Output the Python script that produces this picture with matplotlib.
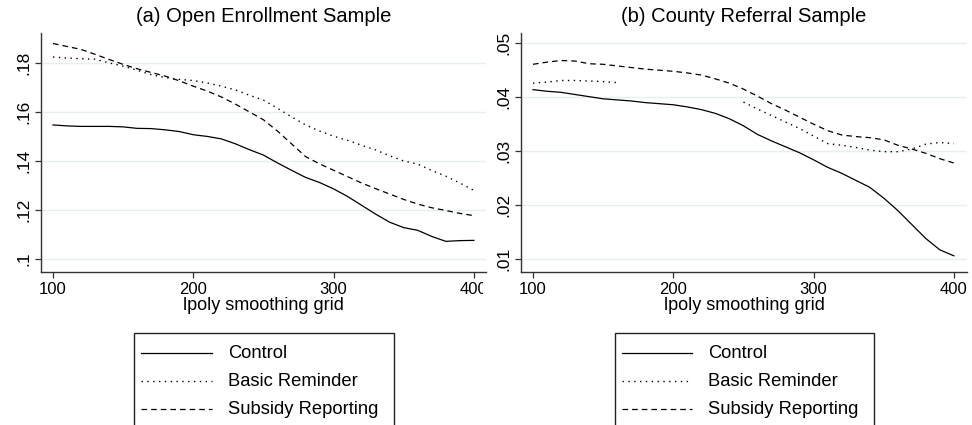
import numpy as np
import matplotlib
matplotlib.use("Agg")
import matplotlib.pyplot as plt
from matplotlib.patches import Rectangle
from matplotlib.transforms import Bbox, TransformedBbox

plt.rcParams['font.family'] = ['Liberation Sans', 'DejaVu Sans']

grid_x = np.arange(100, 401, 10)

# Panel (a) Open Enrollment Sample
a_control = [.1547, .1543, .1541, .1541, .1541, .1539, .1533, .1532, .1527, .1520, .1507,
             .1500, .1490, .1470, .1446, .1424, .1392, .1362, .1333, .1312, .1286,
             .1255, .1219, .1183, .1150, .1128, .1117, .1092, .1072, .1075, .1076]
a_basic = [.1824, .1820, .1817, .1815, .1800, .1787, .1770, .1752, .1740, .1733, .1728,
           .1718, .1705, .1690, .1668, .1648, .1615, .1580, .1547, .1522, .1501,
           .1484, .1464, .1445, .1421, .1400, .1387, .1361, .1338, .1310, .1280]
a_subsidy = [.1879, .1867, .1855, .1835, .1814, .1794, .1776, .1761, .1746, .1727, .1705,
             .1685, .1661, .1632, .1600, .1568, .1522, .1470, .1418, .1388, .1362,
             .1336, .1310, .1287, .1265, .1243, .1224, .1209, .1198, .1186, .1177]

# Panel (b) County Referral Sample
b_control = [.0414, .0411, .0409, .0405, .0401, .0397, .0395, .0393, .0390, .0388, .0386,
             .0382, .0377, .0370, .0360, .0347, .0331, .0319, .0308, .0297, .0284,
             .0270, .0259, .0246, .0233, .0213, .0190, .0164, .0138, .0117, .0106]
b_basic = [.0426, .0428, .0431, .0431, .0430, .0429, .0427, np.nan, np.nan, np.nan, np.nan,
           np.nan, np.nan, np.nan, np.nan, .0391, .0378, .0366, .0354, .0342, .0328,
           .0314, .0311, .0307, .0302, .0299, .0299, .0304, .0313, .0316, .0314]
b_subsidy = [.0461, .0465, .0468, .0467, .0462, .0461, .0458, .0455, .0452, .0450, .0448,
             .0445, .0441, .0434, .0426, .0415, .0402, .0388, .0376, .0363, .0350,
             .0338, .0330, .0327, .0325, .0321, .0311, .0304, .0296, .0286, .0278]

titles = ["(a) Open Enrollment Sample", "(b) County Referral Sample"]
series_names = ["Control", "Basic Reminder", "Subsidy Reporting"]
x_ticks = [100, 200, 300, 400]
a_yticks = [.10, .12, .14, .16, .18]
a_ylabels = [".1", ".12", ".14", ".16", ".18"]
b_yticks = [.01, .02, .03, .04, .05]
b_ylabels = [".01", ".02", ".03", ".04", ".05"]

W, H = 972, 425
fig = plt.figure(figsize=(W / 100, H / 100), dpi=100)
fig.patch.set_facecolor('white')

def fx(px):
    return px / W

def fy(py):
    return 1 - py / H

styles = [dict(linestyle='-', linewidth=0.9),
          dict(linestyle=(0, (1, 3.2)), linewidth=1.0),
          dict(linestyle=(0, (4.5, 3.2)), linewidth=0.9)]

panels = [
    dict(left=41, right=486, ylim=(0.0947, 0.1922), yticks=a_yticks, ylabels=a_ylabels,
         data=[a_control, a_basic, a_subsidy], title=titles[0], clip=(0, 483),
         leg=(134, 394), line=(141, 212), text=228),
    dict(left=521, right=967, ylim=(0.0076, 0.0519), yticks=b_yticks, ylabels=b_ylabels,
         data=[b_control, b_basic, b_subsidy], title=titles[1], clip=(486, 972),
         leg=(615, 874), line=(622, 692), text=708),
]

top_px, bot_px = 33, 272

for p in panels:
    ax = fig.add_axes([fx(p['left']), fy(bot_px), fx(p['right'] - p['left']), (bot_px - top_px) / H])
    span = (p['right'] - p['left'])
    ax.set_xlim(100 - 12 / 1.403, 100 - 12 / 1.403 + span / 1.403)
    ax.set_ylim(*p['ylim'])
    for vals, st in zip(p['data'], styles):
        ax.plot(grid_x, vals, color='black', **st)
    ax.set_yticks(p['yticks'])
    ax.set_yticklabels(p['ylabels'], rotation=90, va='center', fontsize=12.5)
    ax.set_xticks(x_ticks)
    ax.set_xticklabels([str(t) for t in x_ticks], fontsize=12)
    ax.grid(axis='y', color='#e6eef0', linewidth=1.0)
    ax.set_axisbelow(True)
    for s in ['top', 'right']:
        ax.spines[s].set_visible(False)
    for s in ['left', 'bottom']:
        ax.spines[s].set_color('#333333')
        ax.spines[s].set_linewidth(1.0)
    ax.tick_params(direction='out', length=4, width=0.9, color='#333333', pad=3)
    ax.set_xlabel("lpoly smoothing grid", fontsize=13, labelpad=0)
    ax.set_title(p['title'], fontsize=14.5, pad=8)
    clipbox = TransformedBbox(Bbox([[fx(p['clip'][0]), 0], [fx(p['clip'][1]), 1]]), fig.transFigure)
    for lab in ax.get_xticklabels():
        lab.set_clip_on(True)
        lab.set_clip_box(clipbox)
    # legend frame (cut off by figure bottom)
    l0, l1 = p['leg']
    fig.patches.append(Rectangle((fx(l0), fy(440)), fx(l1 - l0), (440 - 333) / H,
                                 transform=fig.transFigure, fill=False,
                                 edgecolor='#222222', linewidth=1.0))
    rows = [353, 381, 409]
    for name, st, ry in zip(series_names, styles, rows):
        fig.add_artist(plt.Line2D([fx(p['line'][0]), fx(p['line'][1])], [fy(ry), fy(ry)],
                                  transform=fig.transFigure, color='black', **st))
        fig.text(fx(p['text']), fy(ry), name, fontsize=13.2, va='center', ha='left')

fig.savefig("out.png", dpi=100)
